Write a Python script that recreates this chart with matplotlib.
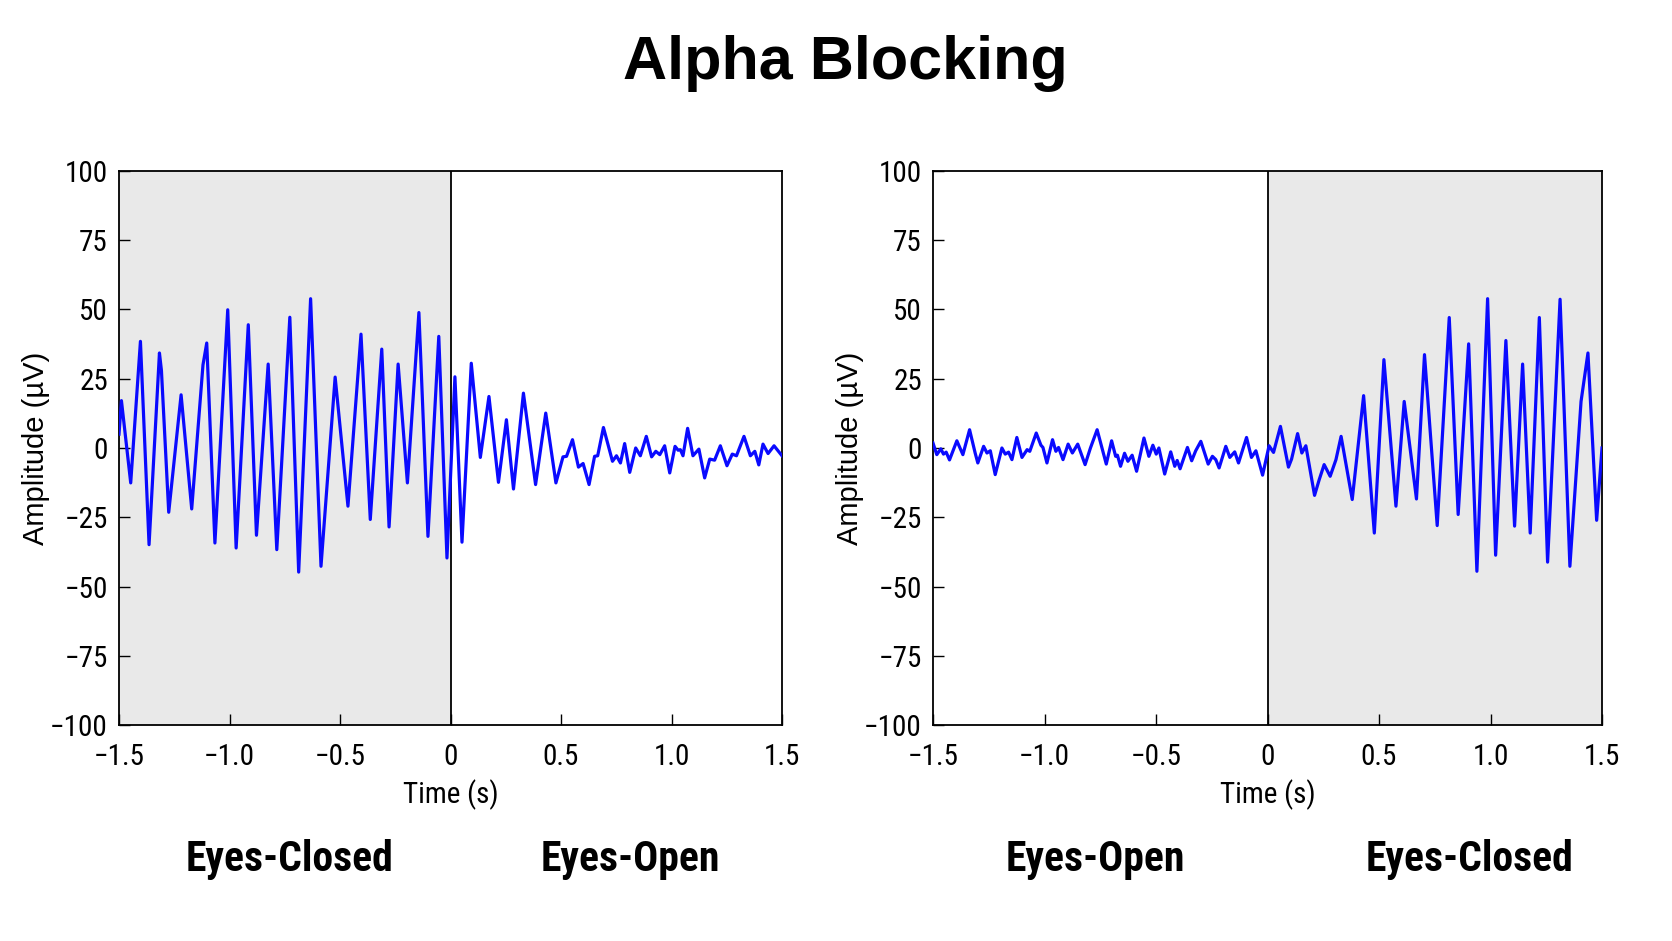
import matplotlib
matplotlib.use("Agg")
import matplotlib.pyplot as plt
from matplotlib import font_manager as fm

# ---------------- data ----------------
left_t = [-1.500, -1.489, -1.447, -1.403, -1.364, -1.317, -1.308, -1.275, -1.219, -1.171,
          -1.120, -1.103, -1.066, -1.008, -0.970, -0.915, -0.878, -0.825, -0.786, -0.727,
          -0.687, -0.633, -0.586, -0.522, -0.464, -0.405, -0.363, -0.311, -0.278, -0.237,
          -0.195, -0.143, -0.102, -0.053, -0.016, 0.020, 0.052, 0.094, 0.135, 0.174,
          0.217, 0.253, 0.285, 0.330, 0.385, 0.431, 0.477, 0.509, 0.525, 0.552,
          0.579, 0.600, 0.627, 0.652, 0.666, 0.692, 0.733, 0.751, 0.769, 0.788,
          0.811, 0.838, 0.859, 0.886, 0.910, 0.929, 0.947, 0.969, 0.992, 1.016,
          1.030, 1.040, 1.052, 1.073, 1.097, 1.124, 1.150, 1.173, 1.195, 1.221,
          1.251, 1.275, 1.294, 1.328, 1.357, 1.377, 1.395, 1.414, 1.437, 1.464,
          1.500]
left_v = [5.0, 17.1, -12.6, 38.5, -34.9, 34.3, 28.0, -23.2, 19.2, -22.0,
          30.0, 37.9, -34.3, 49.9, -36.1, 44.5, -31.5, 30.3, -36.7, 47.2,
          -44.8, 53.9, -42.7, 25.6, -21.0, 41.1, -25.8, 35.7, -28.5, 30.3,
          -12.6, 48.9, -31.9, 40.3, -39.7, 25.7, -34.0, 30.6, -3.4, 18.6,
          -12.4, 10.2, -14.8, 19.8, -13.2, 12.6, -12.6, -3.2, -3.0, 3.0,
          -6.9, -5.6, -13.2, -3.0, -2.8, 7.4, -4.8, -2.8, -5.4, 1.6,
          -8.8, 0.0, -2.8, 4.2, -3.2, -1.2, -2.4, 0.8, -9.0, 0.6,
          -0.8, -0.6, -2.8, 7.1, -2.8, -0.4, -10.8, -4.0, -4.4, 0.8,
          -6.4, -2.2, -2.8, 4.2, -2.8, -1.2, -6.1, 1.4, -2.0, 0.8,
          -2.8]

right_t = [-1.500, -1.483, -1.465, -1.453, -1.441, -1.426, -1.393, -1.366, -1.336, -1.311,
           -1.299, -1.273, -1.258, -1.243, -1.221, -1.191, -1.176, -1.161, -1.146, -1.124,
           -1.101, -1.078, -1.066, -1.037, -1.016, -1.007, -0.989, -0.964, -0.949, -0.937,
           -0.917, -0.894, -0.875, -0.851, -0.818, -0.794, -0.764, -0.723, -0.699, -0.681,
           -0.673, -0.659, -0.641, -0.626, -0.607, -0.587, -0.554, -0.532, -0.514, -0.499,
           -0.487, -0.461, -0.434, -0.416, -0.405, -0.392, -0.359, -0.340, -0.322, -0.299,
           -0.266, -0.247, -0.232, -0.217, -0.187, -0.169, -0.147, -0.130, -0.094, -0.072,
           -0.052, -0.022, 0.007, 0.027, 0.058, 0.094, 0.108, 0.135, 0.154, 0.172,
           0.211, 0.232, 0.254, 0.281, 0.307, 0.330, 0.380, 0.431, 0.479, 0.522,
           0.576, 0.613, 0.668, 0.704, 0.761, 0.815, 0.855, 0.902, 0.939, 0.987,
           1.023, 1.069, 1.108, 1.144, 1.178, 1.219, 1.256, 1.312, 1.356, 1.406,
           1.437, 1.476, 1.500]
right_v = [1.8, -2.4, -0.3, -2.2, -1.5, -4.3, 2.6, -2.4, 6.6, -1.8,
           -5.4, 0.6, -1.8, -1.0, -9.6, 0.0, -2.2, -1.5, -4.2, 3.8,
           -3.4, -0.6, -1.2, 5.4, 1.0, 0.2, -5.4, 3.0, -1.2, 0.2,
           -4.2, 1.4, -1.8, 1.4, -6.0, 0.0, 6.6, -5.8, 2.6, -3.0,
           -2.6, -6.6, -1.9, -4.8, -2.6, -8.4, 3.6, -3.0, 1.0, -2.2,
           0.0, -9.4, -1.4, -6.6, -4.5, -7.5, 0.2, -4.6, -1.0, 2.4,
           -5.8, -3.0, -4.2, -7.2, 0.6, -3.4, -1.4, -5.4, 3.8, -3.4,
           -1.0, -9.8, 0.8, -1.6, 7.8, -6.9, -4.0, 5.2, -1.8, 0.8,
           -17.1, -11.4, -6.0, -10.2, -4.2, 4.2, -18.6, 18.9, -30.7, 31.9,
           -21.0, 16.8, -18.4, 33.7, -28.0, 47.1, -24.0, 37.6, -44.5, 53.9,
           -38.7, 38.8, -28.2, 30.3, -30.7, 47.1, -41.2, 53.7, -42.7, 16.8,
           34.3, -26.1, 0.0]

x_ticks = [-1.5, -1.0, -0.5, 0.0, 0.5, 1.0, 1.5]
x_tick_labels = ["\u22121.5", "\u22121.0", "\u22120.5", "0", "0.5", "1.0", "1.5"]
y_ticks = [-100, -75, -50, -25, 0, 25, 50, 75, 100]
y_tick_labels = ["\u2212100", "\u221275", "\u221250", "\u221225", "0", "25", "50", "75", "100"]

panels = [
    dict(t=left_t, v=left_v, shade=(-1.5, 0.0), labels=("Eyes-Closed", "Eyes-Open")),
    dict(t=right_t, v=right_v, shade=(0.0, 1.5), labels=("Eyes-Open", "Eyes-Closed")),
]

# ---------------- fonts ----------------
names = {f.name for f in fm.fontManager.ttflist}
narrow_candidates = ["Roboto Condensed", "Liberation Sans Narrow", "Arial Narrow",
                     "Open Sans Condensed", "Noto Sans Condensed"]
narrow_found = [n for n in narrow_candidates if n in names]
narrow = narrow_found[:1] + ["Liberation Sans", "DejaVu Sans"]
is_narrow = bool(narrow_found)
regular = ["Liberation Sans", "DejaVu Sans"]

tick_fs = 21 if is_narrow else 19
cat_fs = 30 if is_narrow else 25

W, H = 1672, 941
fig = plt.figure(figsize=(W / 100, H / 100), dpi=100)
fig.patch.set_facecolor("white")

axes_px = [(119, 782), (933, 1602)]
top_px, bot_px = 171, 725
label_x_px = [(290, 630), (1095, 1470)]

for p, (x0, x1), (lx0, lx1) in zip(panels, axes_px, label_x_px):
    ax = fig.add_axes([x0 / W, 1 - bot_px / H, (x1 - x0) / W, (bot_px - top_px) / H])
    ax.set_xlim(-1.5, 1.5)
    ax.set_ylim(-100, 100)
    ax.axvspan(p["shade"][0], p["shade"][1], color="#e9e9e9", zorder=0, lw=0)
    ax.axvline(0, color="black", lw=1.3, zorder=2)
    ax.plot(p["t"], p["v"], color="#0a0aff", lw=2.3, zorder=3, solid_joinstyle="round")
    ax.set_xticks(x_ticks)
    ax.set_xticklabels(x_tick_labels, fontfamily=narrow, fontsize=tick_fs)
    ax.set_yticks(y_ticks)
    ax.set_yticklabels(y_tick_labels, fontfamily=narrow, fontsize=tick_fs)
    ax.tick_params(axis="both", direction="in", length=8, width=1.0, color="black")
    ax.tick_params(axis="x", pad=13)
    ax.tick_params(axis="y", pad=8)
    for s in ax.spines.values():
        s.set_linewidth(1.3)
        s.set_color("black")
    ax.set_xlabel("Time (s)", fontfamily=narrow, fontsize=tick_fs, labelpad=6)
    ax.set_ylabel("Amplitude (\u00b5V)", fontfamily=regular, fontsize=21, labelpad=0)
    fig.text(lx0 / W, 1 - 860 / H, p["labels"][0], ha="center", va="center",
             fontfamily=narrow, fontsize=cat_fs, fontweight="bold")
    fig.text(lx1 / W, 1 - 860 / H, p["labels"][1], ha="center", va="center",
             fontfamily=narrow, fontsize=cat_fs, fontweight="bold")

fig.text(845 / W, 1 - 64 / H, "Alpha Blocking", ha="center", va="center",
         fontfamily=regular, fontsize=44, fontweight="bold")

fig.savefig("out.png", dpi=100, facecolor="white")
